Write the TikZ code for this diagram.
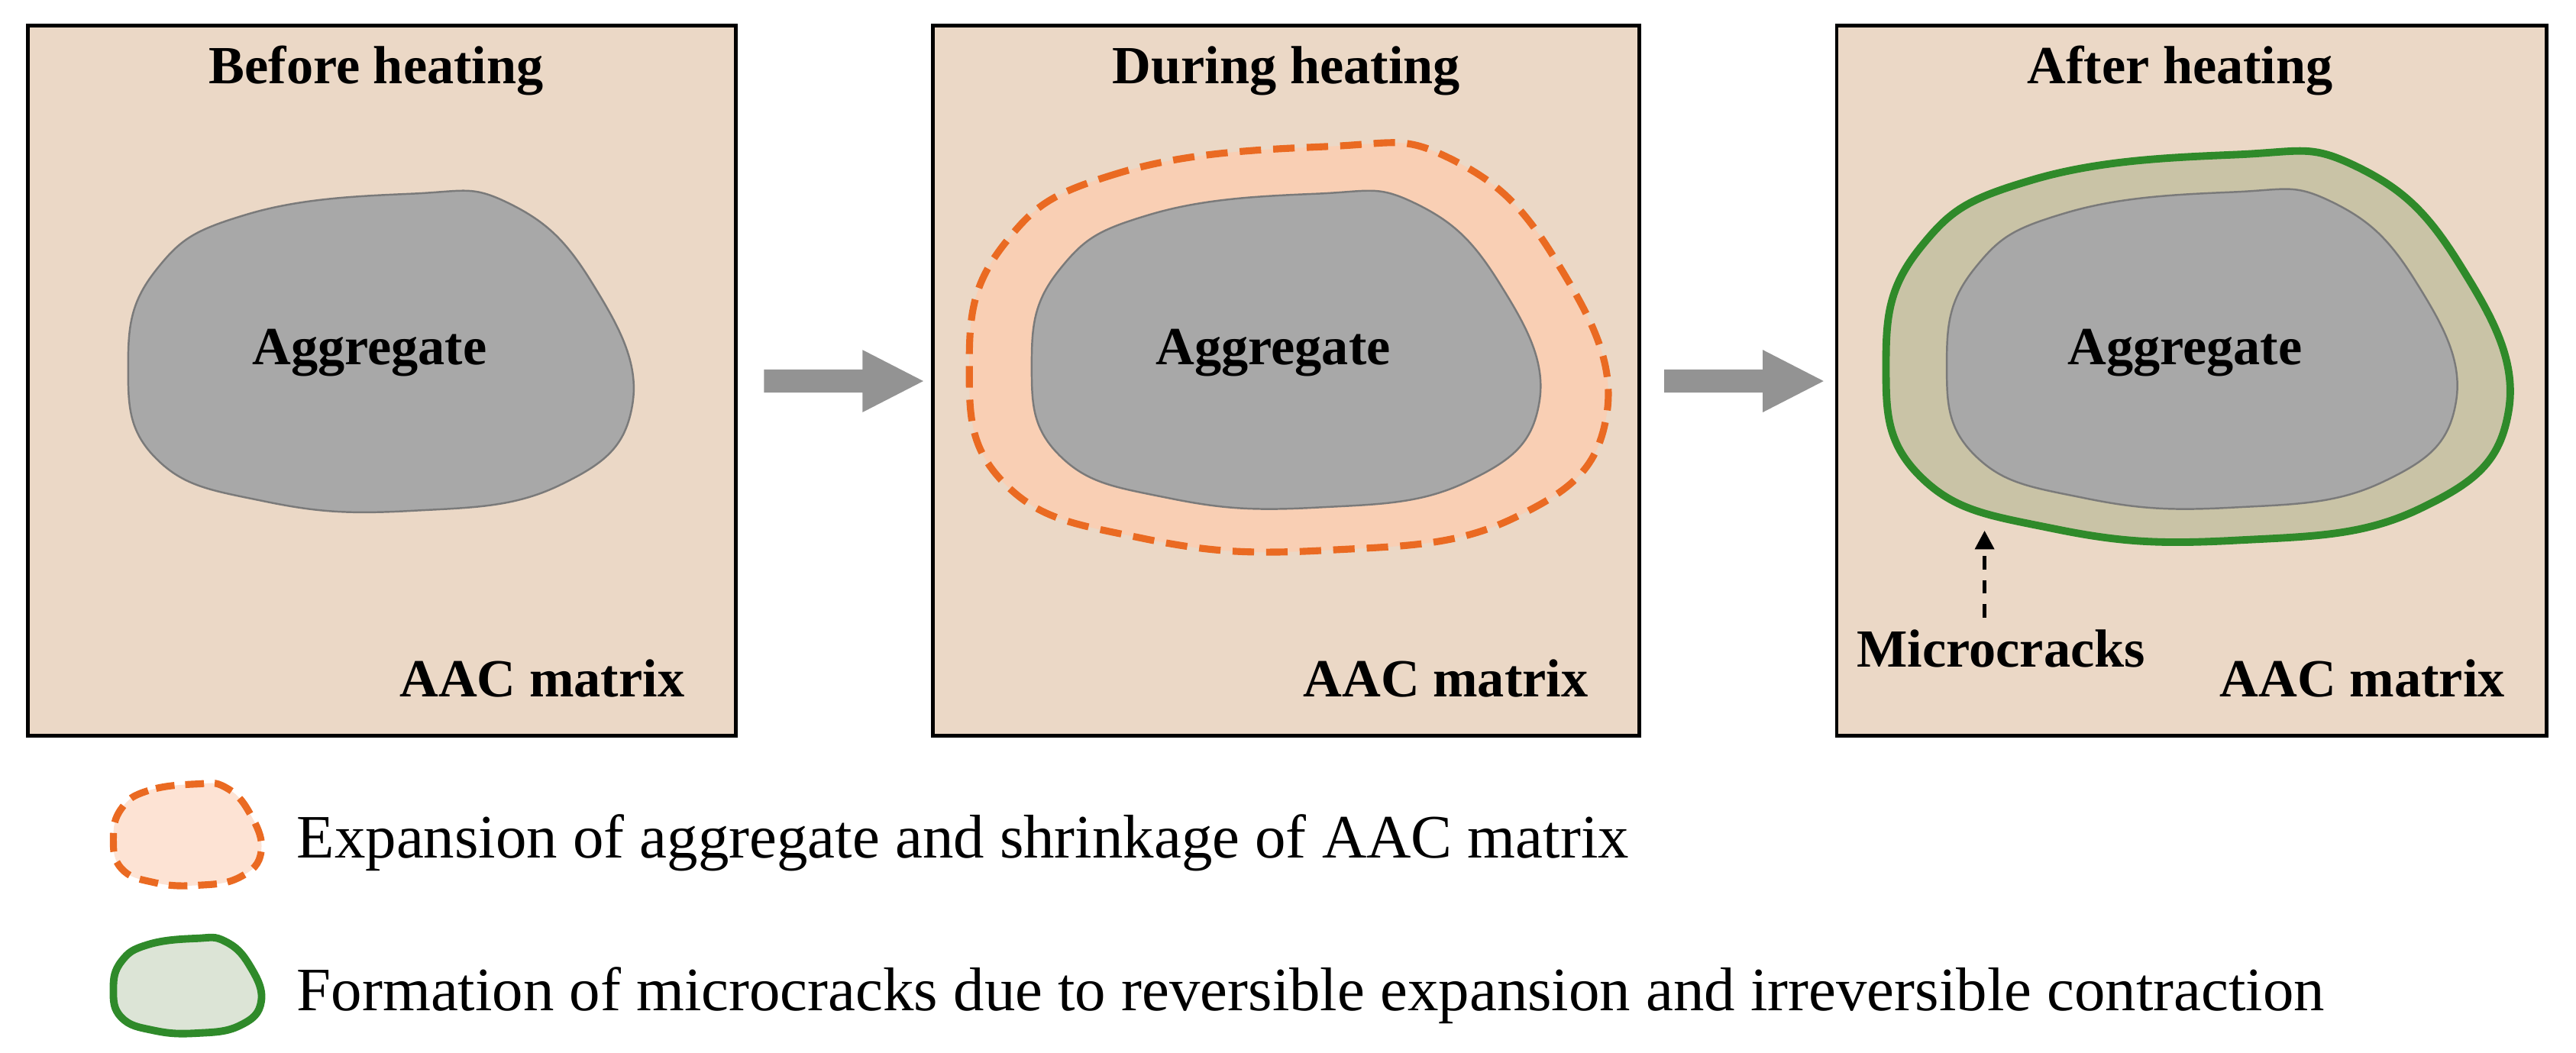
\documentclass[tikz,border=0pt]{standalone}
\usepackage{fontspec}
\setmainfont{Liberation Serif}
\usetikzlibrary{arrows.meta}
\definecolor{matrixc}{HTML}{EBD8C6}
\definecolor{aggc}{HTML}{A8A8A8}
\definecolor{aggedge}{HTML}{7A7A7A}
\definecolor{orng}{HTML}{EA6A22}
\definecolor{orfill}{HTML}{F9CFB4}
\definecolor{grn}{HTML}{2F8A2A}
\definecolor{grfill}{HTML}{C9C3A6}
\definecolor{grleg}{HTML}{DCE4D6}
\definecolor{legor}{HTML}{FDE3D4}
\newcommand\blobpath{plot[smooth cycle,tension=0.75] coordinates{(0.12,-0.99) (-0.53,-0.86) (-0.89,-0.51) (-1,0.08) (-0.89,0.67) (-0.46,0.94) (0.12,1.0) (0.71,0.84) (1,0.33) (0.84,-0.43) (0.51,-0.93)}}
\begin{document}
\begin{tikzpicture}[x=0.02151cm,y=-0.02151cm,
  panel/.style={draw=black,line width=1.4pt,fill=matrixc},
  lbl/.style={font=\bfseries\fontsize{20}{24}\selectfont},
  leg/.style={font=\fontsize{23}{27}\selectfont,anchor=west},
  agg/.style={fill=aggc,draw=aggedge,line width=0.7pt},
  bigarrow/.style={fill=gray!85,draw=none}]
\useasboundingbox (0,0) rectangle (1568,641);
% panels
\draw[panel] (17,15.5) rectangle (448,448);
\draw[panel] (568,15.5) rectangle (998,448);
\draw[panel] (1118,15.5) rectangle (1550,448);
% panel 1
\begin{scope}[shift={(231.5,214)},xscale=153.5,yscale=97]
  \draw[agg] \blobpath;
\end{scope}
% panel 2
\begin{scope}[shift={(784,211.5)},xscale=194,yscale=123.5]
  \draw[orng,fill=orfill,line width=2.6pt,dash pattern=on 8pt off 4.5pt] \blobpath;
\end{scope}
\begin{scope}[shift={(782.5,213)},xscale=154.5,yscale=96]
  \draw[agg] \blobpath;
\end{scope}
% panel 3
\begin{scope}[shift={(1337.5,211)},xscale=189.5,yscale=118]
  \draw[grn,fill=grfill,line width=2.8pt] \blobpath;
\end{scope}
\begin{scope}[shift={(1340,212.5)},xscale=155,yscale=96.5]
  \draw[agg] \blobpath;
\end{scope}
% texts
\node[lbl] (t1) at (229,43) {Before heating};
\node[lbl] (t2) at (783,43) {During heating};
\node[lbl] (t3) at (1327,43) {After heating};
\node[lbl] (a1) at (225,215) {Aggregate};
\node[lbl] (a2) at (775,215) {Aggregate};
\node[lbl] (a3) at (1330,215) {Aggregate};
\node[lbl] (m1) at (330,413) {AAC matrix};
\node[lbl] (m2) at (880,413) {AAC matrix};
\node[lbl] (m3) at (1438,413) {AAC matrix};
\node[lbl] (mc) at (1218,395) {Microcracks};
\coordinate (crack) at (1208,323);
\draw[dash pattern=on 5pt off 4pt,line width=1.5pt,-{Triangle[length=7pt,width=7pt]}] (1208,376) -- (crack);
% big arrows
\fill[bigarrow] (465,225) -- (525,225) -- (525,213) -- (562,232) -- (525,251) -- (525,239) -- (465,239) -- cycle;
\fill[bigarrow] (1013,225) -- (1073,225) -- (1073,213) -- (1110,232) -- (1073,251) -- (1073,239) -- (1013,239) -- cycle;
% legend
\begin{scope}[shift={(114,508)},xscale=45,yscale=31]
  \draw[orng,fill=legor,line width=2.6pt,dash pattern=on 7pt off 4pt] \blobpath;
\end{scope}
\begin{scope}[shift={(114,600)},xscale=45,yscale=29]
  \draw[grn,fill=grleg,line width=2.8pt] \blobpath;
\end{scope}
\node[leg] (l1) at (175,513) {Expansion of aggregate and shrinkage of AAC matrix};
\node[leg] (l2) at (175,606) {Formation of microcracks due to reversible expansion and irreversible contraction};
\end{tikzpicture}
\end{document}
